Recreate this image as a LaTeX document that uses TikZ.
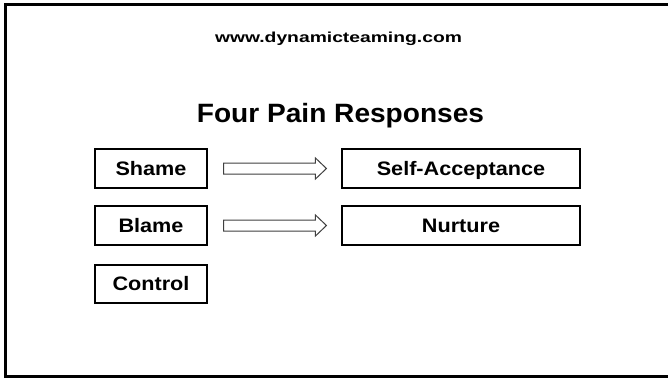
\documentclass[tikz,border=0pt]{standalone}
\usepackage{fontspec}
\setmainfont{Liberation Sans}
\newfontfamily\urlfont[FakeStretch=1.33]{Liberation Sans}
\newfontfamily\titlefont[FakeStretch=1.06]{Liberation Sans}
\newfontfamily\boxfont[FakeStretch=1.11]{Liberation Sans}
\usetikzlibrary{calc}
\tikzstyle{frame}=[black,line width=3pt]
\tikzstyle{painbox}=[draw=black,line width=1.1pt,inner sep=0pt,minimum height=39pt,
text height=14pt,text depth=1pt,font=\boxfont\fontsize{19.5}{23}\selectfont\bfseries]
\tikzstyle{arrowline}=[draw=black!75,line width=1pt,fill=white]
\newcommand{\hollowarrow}[2]{%
  \draw[arrowline] ($(#1.east)+(16,-5.5)$) -- ($(#2.west)+(-26,-5.5)$)
    -- ($(#2.west)+(-26,-10.5)$) -- ($(#2.west)+(-15,0)$)
    -- ($(#2.west)+(-26,10.5)$) -- ($(#2.west)+(-26,5.5)$)
    -- ($(#1.east)+(16,5.5)$) -- cycle;}

\begin{document}
\begin{tikzpicture}[x=1pt, y=-1pt]

	\useasboundingbox (0,0) rectangle (670,378);
	%border, open on the right
	\draw[frame] (668,4) -- (5.5,4) -- (5.5,376.5) -- (668,376.5);

	%headings
	\node[anchor=base] (site) at (338.5,42)
		{\urlfont\fontsize{14.5}{17}\selectfont\bfseries www.dynamicteaming.com};
	\node[anchor=base] (title) at (340.5,122)
		{\titlefont\fontsize{26.5}{32}\selectfont\bfseries Four Pain Responses};

	%responses
	\node[painbox,minimum width=112pt] (shame) at (151,168.5) {Shame};
	\node[painbox,minimum width=112pt] (blame) at (151,225.5) {Blame};
	\node[painbox,minimum width=112pt,minimum height=38pt] (control) at (151,284) {Control};

	\node[painbox,minimum width=238pt] (accept) at (461,168.5) {Self-Acceptance};
	\node[painbox,minimum width=238pt] (nurture) at (461,225.5) {Nurture};

	%arrows
	\hollowarrow{shame}{accept}
	\hollowarrow{blame}{nurture}
\end{tikzpicture}
\end{document}
